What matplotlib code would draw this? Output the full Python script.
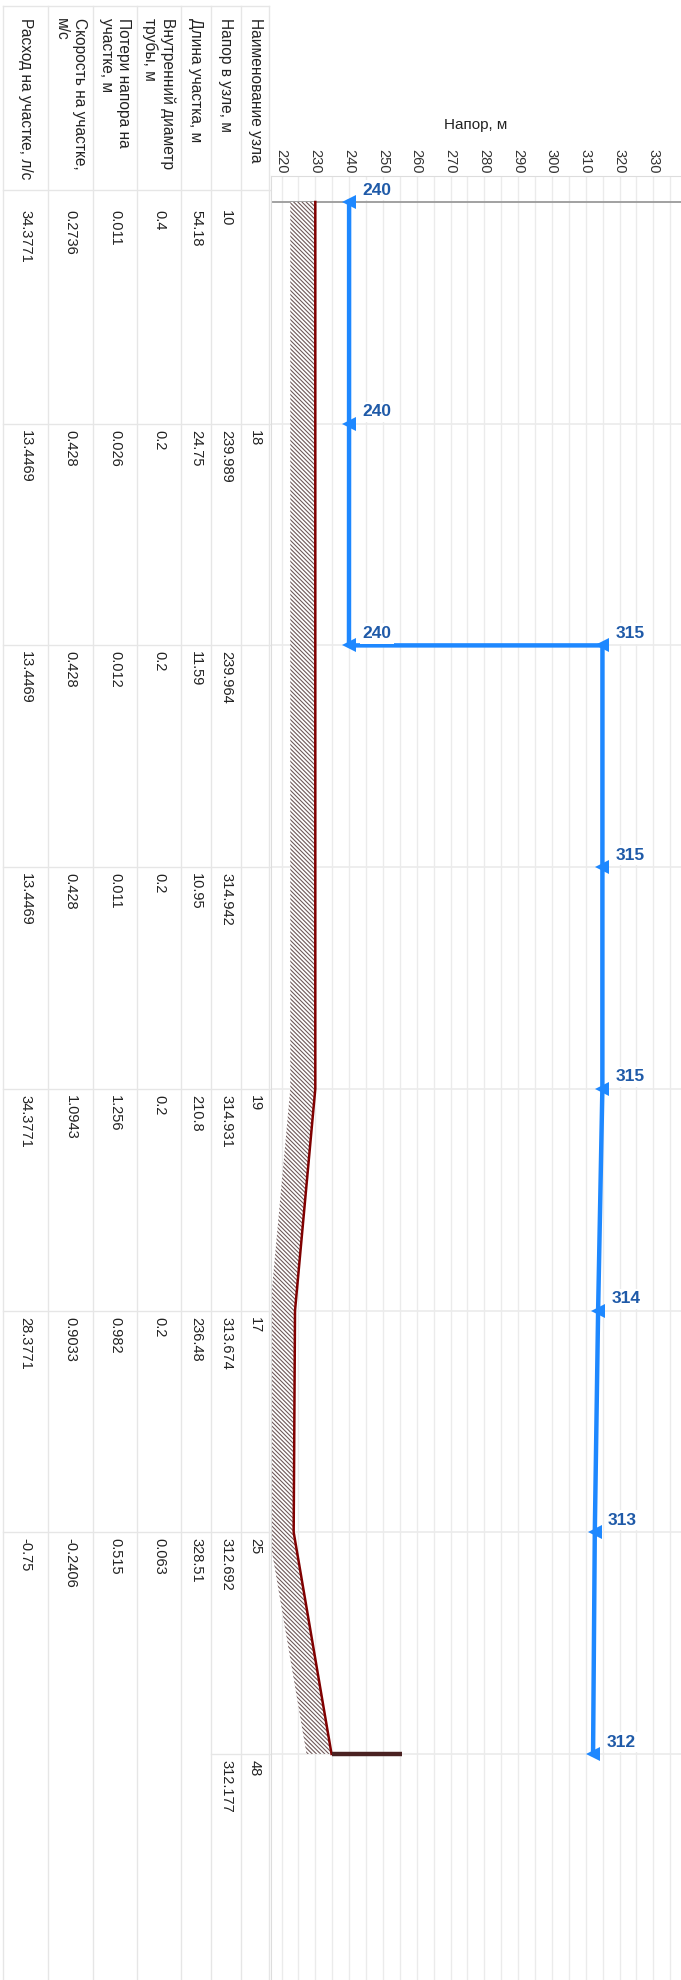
import matplotlib.pyplot as plt
import numpy as np

plt.rcParams['font.family'] = ['Liberation Sans', 'DejaVu Sans']
plt.rcParams['hatch.linewidth'] = 0.8

# table columns, left to right (rotated layout)
headers = ["Расход на участке, л/с",
           "Скорость на участке,\nм/с",
           "Потери напора на\nучастке, м",
           "Внутренний диаметр\nтрубы, м",
           "Длина участка, м",
           "Напор в узле, м",
           "Наименование узла"]

seg_flow = [34.3771, 13.4469, 13.4469, 13.4469, 34.3771, 28.3771, -0.75]
seg_speed = [0.2736, 0.428, 0.428, 0.428, 1.0943, 0.9033, -0.2406]
seg_loss = [0.011, 0.026, 0.012, 0.011, 1.256, 0.982, 0.515]
seg_diam = [0.4, 0.2, 0.2, 0.2, 0.2, 0.2, 0.063]
seg_length = [54.18, 24.75, 11.59, 10.95, 210.8, 236.48, 328.51]
node_head = [10, 239.989, 239.964, 314.942, 314.931, 313.674, 312.692, 312.177]
node_names = ["", "18", "", "", "19", "17", "25", "48"]

# profile
ground = [230, 230, 230, 230, 230, 224, 223.6, 234.8]
end_mark = 255.7
line_pos = [0, 1, 2, 2, 3, 4, 5, 6, 7]
line_head = [240.0, 239.989, 239.964, 314.953, 314.942, 314.931, 313.674, 312.692, 312.177]
x_ticks = list(range(220, 331, 10))

W, H = 681, 1980
Y0, ROW = 202, 221.7           # pixel of first node, pixels per node
CHART_L, CHART_T = 271, 176
col_edges = [3, 48, 93, 137, 181, 211, 241, 269]
grid_c = '#ebebeb'
blue = '#1e88ff'

def to_row(px):
    return (px - Y0) / ROW

fig = plt.figure(figsize=(W / 100, H / 100), dpi=100)

# ---- table axes (x in pixels, y in node rows) ----
tab = fig.add_axes([0, 0, CHART_L / W, 1])
tab.set_xlim(0, CHART_L)
tab.set_ylim(to_row(H), to_row(0))
tab.axis('off')

for x in col_edges:
    tab.plot([x, x], [to_row(6), to_row(H)], color='#e6e6e6', lw=1)
tab.plot([col_edges[0], col_edges[-1]], [to_row(6), to_row(6)], color='#e6e6e6', lw=1)
tab.plot([col_edges[0], CHART_L], [to_row(190), to_row(190)], color='#e6e6e6', lw=1)

columns = [seg_flow, seg_speed, seg_loss, seg_diam, seg_length, node_head, node_names]
for c, (title, vals) in enumerate(zip(headers, columns)):
    xc = (col_edges[c] + col_edges[c + 1]) / 2
    tab.text(xc, to_row(18), title, rotation=270, ha='center', va='top',
             multialignment='left', fontsize=11.2, color='#222222', linespacing=1.2)
    for i, v in enumerate(vals):
        s = v if isinstance(v, str) else f"{v:g}"
        if s == "":
            continue
        off = 8 if i == 0 else 6
        tab.text(xc, i + off / ROW, s, rotation=270, ha='center', va='top',
                 fontsize=10.5, color='#222222')

for i in range(1, 7):
    tab.plot([col_edges[0], CHART_L], [i, i], color='#e6e6e6', lw=1)
tab.plot([col_edges[5], CHART_L], [7, 7], color='#e6e6e6', lw=1)

# ---- chart axes ----
px_per_unit = 3.38
x220 = 281.5
xl = 220 + (CHART_L - x220) / px_per_unit
xr = 220 + (W - x220) / px_per_unit
ax = fig.add_axes([CHART_L / W, 0, (W - CHART_L) / W, (H - CHART_T) / H])
ax.set_xlim(xl, xr)
ax.set_ylim(to_row(H), to_row(CHART_T))

for s in ['right', 'bottom']:
    ax.spines[s].set_visible(False)
for s in ['top', 'left']:
    ax.spines[s].set_color('#dddddd')
ax.set_yticks([])
ax.xaxis.tick_top()
ax.set_xticks(x_ticks)
ax.set_xticklabels([str(t) for t in x_ticks], rotation=270, fontsize=10.5, color='#333333')
ax.tick_params(axis='x', length=0, pad=2)
for g in range(220, 340, 5):
    ax.axvline(g, color=grid_c, lw=1, zorder=0)

ax.axhline(0, color='#9a9a9a', lw=1.3, zorder=1)
for i in range(1, 8):
    ax.axhline(i, color=grid_c, lw=1.2, zorder=1)

pos = np.arange(len(ground))
g = np.array(ground)
ax.fill_betweenx(pos, g - 7.4, g, facecolor='white', edgecolor='#6e5858',
                 hatch='\\' * 8, linewidth=0, zorder=2)
ax.plot(ground, pos, color='#800000', lw=1.8, zorder=3)
ax.plot([ground[-1], end_mark], [7, 7], color='#4a2222', lw=3.2,
        solid_capstyle='butt', zorder=3)

ax.plot(line_head, line_pos, color=blue, lw=3.2, marker='<', ms=10,
        markeredgewidth=0, zorder=4)
for h, p in zip(line_head, line_pos):
    ax.annotate(f"{round(h)}", (h, p), xytext=(20, 8.5), textcoords='offset points',
                ha='center', va='center', fontsize=12.5, fontweight='bold',
                color='#1f5aa8', zorder=5,
                bbox=dict(boxstyle='square,pad=0.15', fc='white', ec='none'))

fig.text((CHART_L + W) / 2 / W, 1 - 125 / H, "Напор, м", ha='center', va='center',
         fontsize=11, color='#222222')

fig.savefig('out.png', dpi=100)
